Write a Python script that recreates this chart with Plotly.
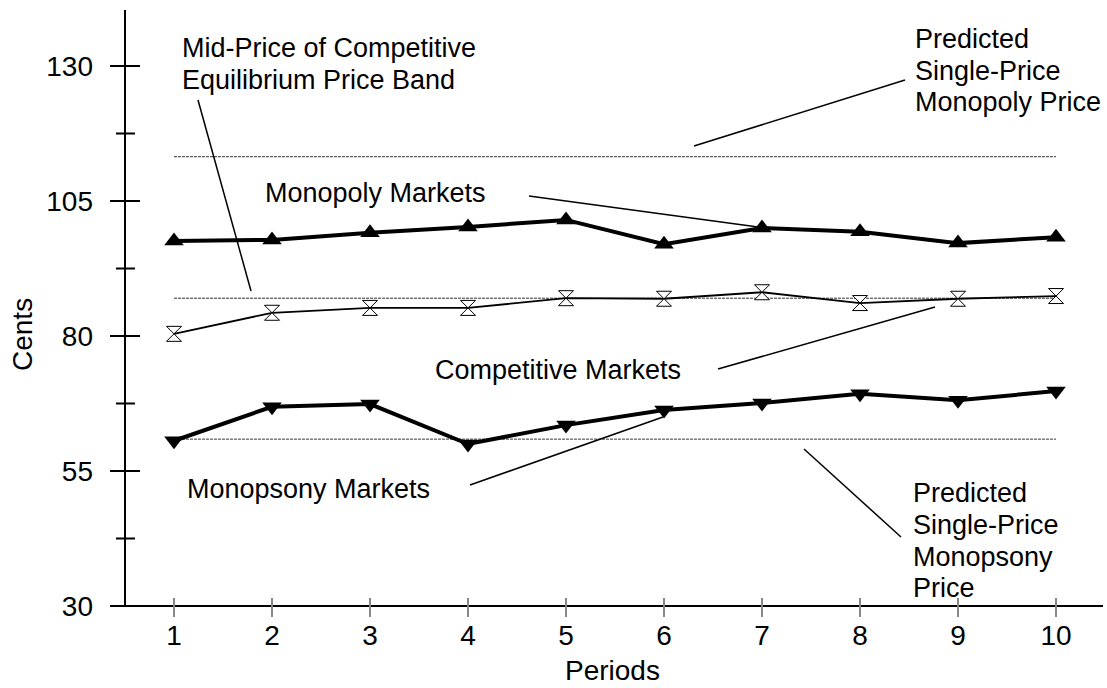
import plotly.graph_objects as go

# ---- data ----
periods = [1, 2, 3, 4, 5, 6, 7, 8, 9, 10]
monopoly = [97.6, 97.8, 99.1, 100.2, 101.5, 97.0, 100.0, 99.3, 97.2, 98.3]
competitive = [80.4, 84.3, 85.2, 85.2, 87.0, 86.9, 88.1, 86.1, 86.9, 87.4]
monopsony = [60.6, 66.9, 67.4, 60.0, 63.5, 66.3, 67.6, 69.3, 68.1, 69.8]
pred_monopoly = 113.2
mid_competitive = 87.0
pred_monopsony = 60.9
y_ticks = [30, 55, 80, 105, 130]
y_minor = [42.5, 67.5, 92.5, 117.5]
x_ticks = periods

FONT = "Liberation Sans, Arial, Helvetica, sans-serif"
X0, X1 = 0.5, 10.5
Y0, Y1 = 30, 30 + 596 / 5.4
PW, PH = 980, 596

fig = go.Figure()

# reference (predicted) lines
for val in [pred_monopoly, mid_competitive, pred_monopsony]:
    fig.add_trace(go.Scatter(x=[periods[0], periods[-1]], y=[val, val], mode="lines",
                             line=dict(color="#333", width=1, dash="3px,1px"),
                             hoverinfo="skip", showlegend=False))

fig.add_trace(go.Scatter(x=periods, y=monopoly, mode="lines+markers",
                         line=dict(color="black", width=4),
                         marker=dict(symbol="triangle-up", size=17, color="black"),
                         showlegend=False, name="Monopoly Markets"))
fig.add_trace(go.Scatter(x=periods, y=competitive, mode="lines+markers",
                         line=dict(color="black", width=1.8),
                         marker=dict(symbol="hourglass", size=15, color="white",
                                     line=dict(color="black", width=1)),
                         showlegend=False, name="Competitive Markets"))
fig.add_trace(go.Scatter(x=periods, y=monopsony, mode="lines+markers",
                         line=dict(color="black", width=4),
                         marker=dict(symbol="triangle-down", size=17, color="black"),
                         showlegend=False, name="Monopsony Markets"))

shapes = []
# axis lines
shapes.append(dict(type="line", xref="paper", yref="paper", x0=0, x1=0, y0=0, y1=1,
                   line=dict(color="black", width=2)))
shapes.append(dict(type="line", xref="paper", yref="paper", x0=-15 / PW, x1=978 / PW, y0=0, y1=0,
                   line=dict(color="black", width=2)))
# y ticks crossing the axis
for t in y_ticks:
    shapes.append(dict(type="line", xref="paper", yref="y", x0=-15 / PW, x1=15 / PW, y0=t, y1=t,
                       line=dict(color="black", width=2)))
for t in y_minor:
    shapes.append(dict(type="line", xref="paper", yref="y", x0=-9 / PW, x1=10 / PW, y0=t, y1=t,
                       line=dict(color="black", width=2)))
# x ticks crossing the axis
for t in x_ticks:
    shapes.append(dict(type="line", xref="x", yref="paper", x0=t, x1=t, y0=-11 / PH, y1=8 / PH,
                       line=dict(color="#888", width=2)))


def px2x(px):
    return X0 + (px - 125) / 98.0


def px2y(py):
    return 30 + (606 - py) / 5.4


pointers = [
    ((198, 100), (251, 291)),
    ((905, 80), (694, 146)),
    ((529, 196), (758, 227)),
    ((718, 369), (935, 307)),
    ((470, 485), (663, 417)),
    ((804, 449), (901, 537)),
]
for (a, b) in pointers:
    shapes.append(dict(type="line", xref="x", yref="y", x0=px2x(a[0]), y0=px2y(a[1]),
                       x1=px2x(b[0]), y1=px2y(b[1]), line=dict(color="black", width=1.5)))

annots = []
labels = [
    (183, [47, 79], ["Mid-Price of Competitive", "Equilibrium Price Band"]),
    (916, [38, 70, 101], ["Predicted", "Single-Price", "Monopoly Price"]),
    (266, [192], ["Monopoly Markets"]),
    (436, [369], ["Competitive Markets"]),
    (188, [488], ["Monopsony Markets"]),
    (914, [492, 524, 556, 587], ["Predicted", "Single-Price", "Monopsony", "Price"]),
]
for left, ys, lines in labels:
    for yy, txt in zip(ys, lines):
        annots.append(dict(x=px2x(left - 3), y=px2y(yy + 1), xref="x", yref="y", text=txt,
                           showarrow=False, xanchor="left", yanchor="middle",
                           font=dict(family=FONT, size=27, color="black")))

annots.append(dict(x=(22 - 125) / PW, y=px2y(335), xref="paper", yref="y", text="Cents",
                   textangle=-90, showarrow=False, xanchor="center", yanchor="middle",
                   font=dict(family=FONT, size=28, color="black")))
annots.append(dict(x=(612 - 125) / PW, y=-(670 - 606) / PH, xref="paper", yref="paper",
                   text="Periods", showarrow=False, xanchor="center", yanchor="middle",
                   font=dict(family=FONT, size=28, color="black")))

fig.update_layout(
    width=1107, height=688,
    margin=dict(l=125, r=2, t=10, b=82),
    paper_bgcolor="white", plot_bgcolor="white",
    shapes=shapes, annotations=annots,
    font=dict(family=FONT, size=28, color="black"),
    xaxis=dict(range=[X0, X1], tickmode="array", tickvals=x_ticks,
               ticktext=[str(v) for v in x_ticks], ticks="", showgrid=False,
               zeroline=False, showline=False, ticklabelstandoff=10),
    yaxis=dict(range=[Y0, Y1], tickmode="array", tickvals=y_ticks,
               ticktext=[str(v) for v in y_ticks], ticks="", showgrid=False,
               zeroline=False, showline=False, ticklabelstandoff=31),
)

fig.write_html("out.html", config={"displayModeBar": False},
               post_script="document.body.style.margin='0';document.body.style.overflow='hidden';")
